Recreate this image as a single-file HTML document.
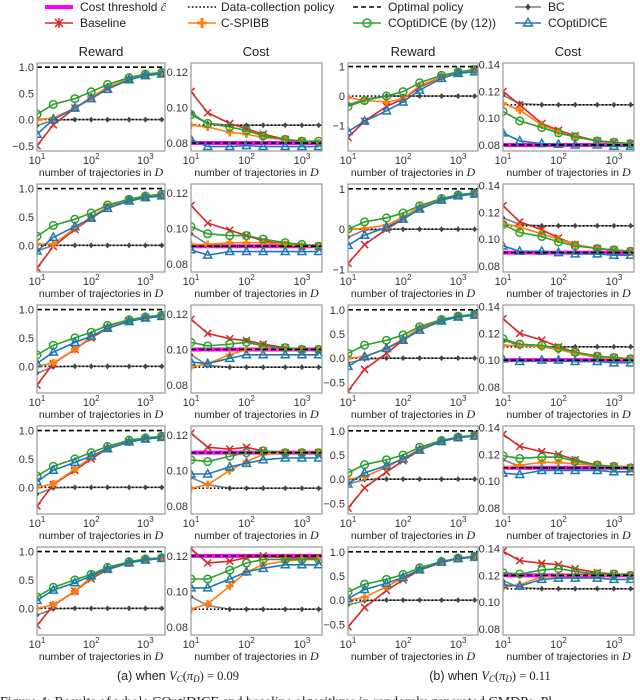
<!DOCTYPE html>
<html><head><meta charset="utf-8"><style>
body{margin:0;background:#fff}
svg{display:block;font-family:"Liberation Sans",sans-serif}
</style></head><body>
<svg id="fig" width="640" height="700" viewBox="0 0 640 700" xmlns="http://www.w3.org/2000/svg">
<g font-size="12" fill="#222">
 <g><line x1="45" y1="7" x2="73" y2="7" stroke="#ff00ff" stroke-width="4"/><text x="80" y="11">Cost threshold <tspan font-family="Liberation Serif" font-style="italic">ĉ</tspan></text></g>
 <g><line x1="188" y1="7" x2="216" y2="7" stroke="#000" stroke-width="1.6" stroke-dasharray="1.6,2.2"/><text x="221" y="11">Data-collection policy</text></g>
 <g><line x1="353" y1="7" x2="381" y2="7" stroke="#000" stroke-width="1.6" stroke-dasharray="5,3"/><text x="388" y="11">Optimal policy</text></g>
 <g><line x1="515" y1="7" x2="541" y2="7" stroke="#7f7f7f" stroke-width="1.5"/><path d="M528 3.5L530.5 7L528 10.5L525.5 7Z" fill="#444"/><text x="548" y="11">BC</text></g>
 <g><line x1="45" y1="23" x2="73" y2="23" stroke="#d62728" stroke-width="1.5"/><path d="M55 19L63 27M63 19L55 27M59 18V28" stroke="#d62728" stroke-width="1.5"/><text x="80" y="27">Baseline</text></g>
 <g><line x1="188" y1="23" x2="216" y2="23" stroke="#ff7f0e" stroke-width="1.5"/><path d="M202 18V28M197 23H207" stroke="#ff7f0e" stroke-width="3"/><text x="221" y="27">C-SPIBB</text></g>
 <g><line x1="353" y1="23" x2="381" y2="23" stroke="#2ca02c" stroke-width="1.5"/><circle cx="367" cy="23" r="4" fill="none" stroke="#2ca02c" stroke-width="1.5"/><text x="388" y="27">COptiDICE (by (12))</text></g>
 <g><line x1="515" y1="23" x2="541" y2="23" stroke="#1f77b4" stroke-width="1.5"/><path d="M528 18.5L532.5 26H523.5Z" fill="none" stroke="#1f77b4" stroke-width="1.5"/><text x="548" y="27">COptiDICE</text></g>
</g>
<g font-size="13" fill="#222" text-anchor="middle">
 <text x="101" y="56">Reward</text><text x="256" y="56">Cost</text><text x="413" y="56">Reward</text><text x="568" y="56">Cost</text>
</g>
<g id="panels"></g>
<g font-size="12.5" fill="#222" text-anchor="middle">
 <text x="178" y="680">(a) when <tspan font-family="Liberation Serif" font-style="italic">V<tspan font-size="9" dy="2">C</tspan></tspan><tspan dy="-2" font-family="Liberation Serif">(<tspan font-style="italic">π<tspan font-size="9" dy="2">D</tspan></tspan><tspan dy="-2">) = 0.09</tspan></tspan></text>
 <text x="490" y="680">(b) when <tspan font-family="Liberation Serif" font-style="italic">V<tspan font-size="9" dy="2">C</tspan></tspan><tspan dy="-2" font-family="Liberation Serif">(<tspan font-style="italic">π<tspan font-size="9" dy="2">D</tspan></tspan><tspan dy="-2">) = 0.11</tspan></tspan></text>
</g>
<text x="0" y="706" font-family="Liberation Serif" font-size="14" fill="#222">Figure 4: Results of whole COptiDICE and baseline algorithms in randomly generated CMDPs. Pl</text>
</svg>
<script>
const xsTraj = [10,20,50,100,200,500,1000,2000];
const thresholds = [0.08,0.09,0.10,0.11,0.12];
const dataCollectionCost = [0.09,0.11];
const optimalReward = 1.0;
const dataCollectionReward = 0.0;
// panel order: row-major, 4 columns: rewardA, costA, rewardB, costB
const baseline = [
[-0.5,-0.1,0.22,0.42,0.6,0.77,0.84,0.88],[0.109,0.097,0.091,0.088,0.085,0.082,0.081,0.080],[-1.4,-0.85,-0.35,-0.1,0.3,0.65,0.8,0.88],[0.12,0.11,0.096,0.091,0.087,0.083,0.082,0.081],
[-0.4,-0.02,0.28,0.48,0.68,0.8,0.85,0.88],[0.113,0.103,0.099,0.096,0.093,0.091,0.090,0.090],[-0.85,-0.38,0.0,0.25,0.5,0.72,0.82,0.88],[0.125,0.113,0.107,0.101,0.096,0.093,0.092,0.091],
[-0.33,0.05,0.3,0.5,0.67,0.8,0.85,0.88],[0.117,0.109,0.106,0.105,0.103,0.101,0.1,0.1],[-0.68,-0.23,0.1,0.37,0.6,0.78,0.86,0.9],[0.131,0.12,0.115,0.11,0.106,0.103,0.102,0.101],
[-0.33,0.05,0.3,0.5,0.68,0.8,0.85,0.88],[0.121,0.113,0.112,0.113,0.111,0.11,0.11,0.11],[-0.6,-0.18,0.15,0.38,0.6,0.78,0.86,0.9],[0.135,0.126,0.122,0.12,0.116,0.112,0.111,0.11],
[-0.3,0.05,0.3,0.52,0.68,0.8,0.85,0.88],[0.124,0.116,0.117,0.119,0.12,0.119,0.119,0.119],[-0.55,-0.15,0.2,0.42,0.62,0.78,0.86,0.9],[0.138,0.131,0.129,0.128,0.125,0.122,0.121,0.12]];
const cspibb = [
[0.0,0.03,0.22,0.43,0.62,0.78,0.85,0.89],[0.090,0.089,0.086,0.085,0.083,0.082,0.081,0.080],[-0.05,-0.15,-0.2,-0.1,0.35,0.65,0.8,0.88],[0.111,0.106,0.095,0.09,0.086,0.083,0.081,0.081],
[0.02,0.02,0.3,0.5,0.68,0.8,0.86,0.89],[0.091,0.091,0.092,0.092,0.092,0.091,0.090,0.090],[0.0,0.02,0.1,0.3,0.55,0.75,0.85,0.9],[0.112,0.109,0.104,0.1,0.096,0.093,0.092,0.091],
[0.0,0.06,0.3,0.52,0.68,0.8,0.86,0.89],[0.09,0.092,0.097,0.1,0.1,0.1,0.1,0.1],[0.0,0.03,0.2,0.4,0.62,0.8,0.87,0.9],[0.111,0.111,0.11,0.108,0.105,0.102,0.101,0.101],
[0.0,0.06,0.32,0.53,0.69,0.8,0.86,0.89],[0.09,0.092,0.1,0.105,0.109,0.11,0.11,0.11],[0.0,0.05,0.25,0.43,0.62,0.8,0.87,0.91],[0.11,0.112,0.114,0.114,0.113,0.112,0.111,0.11],
[0.0,0.06,0.3,0.55,0.69,0.8,0.86,0.89],[0.09,0.093,0.103,0.111,0.115,0.117,0.118,0.118],[0.0,0.06,0.28,0.46,0.64,0.8,0.87,0.91],[0.111,0.113,0.119,0.12,0.12,0.12,0.12,0.12]];
const coptidice12 = [
[0.1,0.29,0.4,0.53,0.67,0.8,0.87,0.9],[0.096,0.091,0.089,0.087,0.084,0.082,0.081,0.081],[-0.35,-0.15,0.0,0.15,0.45,0.7,0.82,0.9],[0.105,0.098,0.093,0.089,0.086,0.083,0.082,0.081],
[0.16,0.35,0.46,0.57,0.71,0.81,0.87,0.9],[0.101,0.097,0.096,0.096,0.094,0.092,0.091,0.090],[0.0,0.18,0.28,0.4,0.58,0.76,0.85,0.9],[0.111,0.105,0.102,0.098,0.095,0.093,0.092,0.091],
[0.2,0.37,0.5,0.6,0.72,0.82,0.87,0.9],[0.104,0.102,0.103,0.104,0.102,0.101,0.1,0.1],[0.1,0.27,0.37,0.48,0.65,0.8,0.87,0.91],[0.116,0.112,0.111,0.109,0.106,0.103,0.102,0.101],
[0.2,0.37,0.5,0.61,0.72,0.83,0.87,0.9],[0.106,0.105,0.108,0.11,0.111,0.11,0.11,0.11],[0.13,0.3,0.4,0.5,0.66,0.8,0.87,0.91],[0.119,0.117,0.118,0.118,0.115,0.112,0.111,0.11],
[0.2,0.37,0.5,0.6,0.72,0.82,0.87,0.89],[0.107,0.107,0.112,0.116,0.118,0.118,0.118,0.118],[0.17,0.33,0.43,0.53,0.67,0.8,0.87,0.9],[0.122,0.121,0.124,0.125,0.123,0.121,0.121,0.12]];
const coptidice = [
[-0.28,0.0,0.22,0.4,0.58,0.76,0.84,0.87],[0.082,0.078,0.078,0.0785,0.078,0.078,0.078,0.078],[-1.2,-0.85,-0.5,-0.2,0.2,0.6,0.77,0.82],[0.089,0.083,0.081,0.0805,0.08,0.08,0.079,0.079],
[-0.1,0.14,0.33,0.48,0.65,0.78,0.84,0.87],[0.088,0.085,0.087,0.087,0.087,0.087,0.087,0.087],[-0.4,-0.15,0.05,0.25,0.5,0.72,0.83,0.87],[0.095,0.091,0.091,0.09,0.089,0.089,0.088,0.088],
[0.05,0.25,0.42,0.53,0.67,0.79,0.85,0.88],[0.093,0.092,0.095,0.097,0.097,0.097,0.097,0.097],[-0.17,0.03,0.2,0.37,0.58,0.77,0.85,0.89],[0.101,0.099,0.1,0.1,0.099,0.099,0.098,0.098],
[0.1,0.3,0.44,0.55,0.68,0.8,0.85,0.88],[0.098,0.098,0.102,0.104,0.106,0.107,0.107,0.107],[-0.1,0.13,0.28,0.42,0.6,0.78,0.86,0.89],[0.106,0.105,0.108,0.108,0.108,0.108,0.107,0.107],
[0.14,0.32,0.45,0.57,0.69,0.8,0.85,0.88],[0.102,0.102,0.107,0.111,0.113,0.115,0.115,0.115],[0.03,0.22,0.35,0.47,0.63,0.79,0.86,0.89],[0.113,0.112,0.117,0.118,0.118,0.118,0.117,0.117]];
const bcFirst = [
[-0.12,-0.01],[0.097,0.091],[-0.3,-0.1],[0.117,0.111],
[-0.1,0.0],[0.097,0.091],[-0.2,-0.02],[0.116,0.111],
[-0.12,-0.01],[0.097,0.091],[-0.1,-0.02],[0.115,0.111],
[-0.12,-0.01],[0.096,0.092],[-0.1,-0.01],[0.116,0.111],
[-0.12,-0.01],[0.097,0.092],[-0.1,-0.01],[0.116,0.111]];
const tickRewardA0 = [-0.5,0,0.5,1.0];
const tickRewardA = [0,0.5,1.0];
const tickCostA = [0.08,0.10,0.12];
const tickRewardB01 = [-1,0,1];
const tickRewardB = [-0.5,0,0.5,1.0];
const tickCostB = [0.08,0.10,0.12,0.14];
const xTickExps = [1,2,3];

const NS="http://www.w3.org/2000/svg";
const root=document.getElementById('panels');
function mk(tag,attrs,parent){const e=document.createElementNS(NS,tag);for(const k in attrs)e.setAttribute(k,attrs[k]);parent.appendChild(e);return e;}
const colX=[[37,165],[191,322],[348,478],[503,634]];
const rowTop=[63,184,305,426,547], H=88;
const colNames=['reward-a','cost-a','reward-b','cost-b'];
function yDomain(r,c){
  if(c===0) return r===0?[-0.6,1.08]:[-0.47,1.08];
  if(c===1) return [0.0755,0.125];
  if(c===2) return r===0?[-1.86,1.12]:(r===1?[-1.06,1.12]:[-0.72,1.1]);
  return [0.0755,0.1412];
}
function ticksFor(r,c){
  if(c===0) return r===0?tickRewardA0:tickRewardA;
  if(c===1) return tickCostA;
  if(c===2) return r<2?tickRewardB01:tickRewardB;
  return tickCostB;
}
function fmt(v,c,r){
  if(c===1||c===3) return v.toFixed(2);
  if(c===2&&r<2) return v<0?'\u2212'+Math.abs(v):String(v);
  const s=Math.abs(v).toFixed(1);return v<0?'\u2212'+s:s;
}
const lx0=Math.log10(10), lx1=Math.log10(2300);
function marker(type,x,y,g){
  let m;
  if(type==='x'){m=mk('path',{d:`M${x-3.5} ${y-3.5}L${x+3.5} ${y+3.5}M${x+3.5} ${y-3.5}L${x-3.5} ${y+3.5}`,stroke:'#d62728','stroke-width':1.5},g);}
  else if(type==='plus'){m=mk('path',{d:`M${x} ${y-4}V${y+4}M${x-4} ${y}H${x+4}`,stroke:'#ff7f0e','stroke-width':2.6},g);}
  else if(type==='o'){m=mk('circle',{cx:x,cy:y,r:3.8,fill:'none',stroke:'#2ca02c','stroke-width':1.5},g);}
  else if(type==='tri'){m=mk('path',{d:`M${x} ${y-4.3}L${x+4} ${y+3}H${x-4}Z`,fill:'none',stroke:'#1f77b4','stroke-width':1.5},g);}
  else {m=mk('path',{d:`M${x} ${y-3}L${x+2.4} ${y}L${x} ${y+3}L${x-2.4} ${y}Z`,fill:'#444'},g);}
  
  
}
for(let r=0;r<5;r++)for(let c=0;c<4;c++){
  const p=r*4+c;const [x0,x1]=colX[c];const y0=rowTop[r],y1=y0+H;
  const [d0,d1]=yDomain(r,c);
  const sx=v=>x0+(Math.log10(v)-lx0)/(lx1-lx0)*(x1-x0);
  const sy=v=>y1-(v-d0)/(d1-d0)*H;
  const g=mk('g',{},root);
  
  
  mk('clipPath',{id:'cp'+p},g).appendChild(document.createElementNS(NS,'rect'));
  const cr=g.querySelector('clipPath rect');cr.setAttribute('x',x0);cr.setAttribute('y',y0);cr.setAttribute('width',x1-x0);cr.setAttribute('height',H);
  const ax=mk('g',{'font-size':11,fill:'#333','text-anchor':'end'},g);
  
  
  ticksFor(r,c).forEach(t=>{const tt=mk('text',{x:x0-3,y:sy(t)+4},ax);tt.textContent=fmt(t,c,r);});
  const xa=mk('g',{'font-size':11,fill:'#333','text-anchor':'middle'},g);
  
  
  xTickExps.forEach(e=>{const t=mk('text',{x:sx(Math.pow(10,e)),y:y1+13},xa);t.textContent='10';const s=mk('tspan',{'font-size':8,dy:-5},t);s.textContent=String(e);});
  const xl=mk('text',{x:(x0+x1)/2,y:y1+25,'font-size':10.5,fill:'#222','text-anchor':'middle'},g);
  
  
  xl.textContent='number of trajectories in ';
  const dd=mk('tspan',{'font-family':'Liberation Serif','font-style':'italic','font-size':12},xl);dd.textContent='D';
  const plot=mk('g',{'clip-path':`url(#cp${p})`},g);
  const isCost=(c===1||c===3);
  const dc=isCost?dataCollectionCost[c===1?0:1]:dataCollectionReward;
  if(isCost){const th=mk('line',{x1:x0,x2:x1,y1:sy(thresholds[r]),y2:sy(thresholds[r]),stroke:'#ff00ff','stroke-width':4},plot);
    }
  const bcVals=xsTraj.map((x,i)=>i<2?bcFirst[p][i]:dc);
  const series=[['bc',bcVals,'#7f7f7f','d'],['baseline',baseline[p],'#d62728','x'],['cspibb',cspibb[p],'#ff7f0e','plus'],['coptidice12',coptidice12[p],'#2ca02c','o'],['coptidice',coptidice[p],'#1f77b4','tri']];
  series.forEach((s,si)=>{
    const sg=mk('g',{},plot);
    
    
    mk('polyline',{points:xsTraj.map((x,i)=>sx(x)+','+sy(s[1][i])).join(' '),fill:'none',stroke:s[2],'stroke-width':1.6},sg);
    if(si===0){const dl=mk('line',{x1:x0,x2:x1,y1:sy(dc),y2:sy(dc),stroke:'#000','stroke-width':1.6,'stroke-dasharray':'1.6,2.2'},sg);
      }
    xsTraj.forEach((x,i)=>marker(s[3],sx(x),sy(s[1][i]),sg));
  });
  const ov=isCost?thresholds[r]:optimalReward;
  const ol=mk('line',{x1:x0,x2:x1,y1:sy(ov),y2:sy(ov),stroke:'#000','stroke-width':1.6,'stroke-dasharray':'5,3'},plot);
  
  
  const fr=mk('rect',{x:x0,y:y0,width:x1-x0,height:H,fill:'none',stroke:'#999','stroke-width':1.2},g);
  
  
}
</script>
</body></html>
